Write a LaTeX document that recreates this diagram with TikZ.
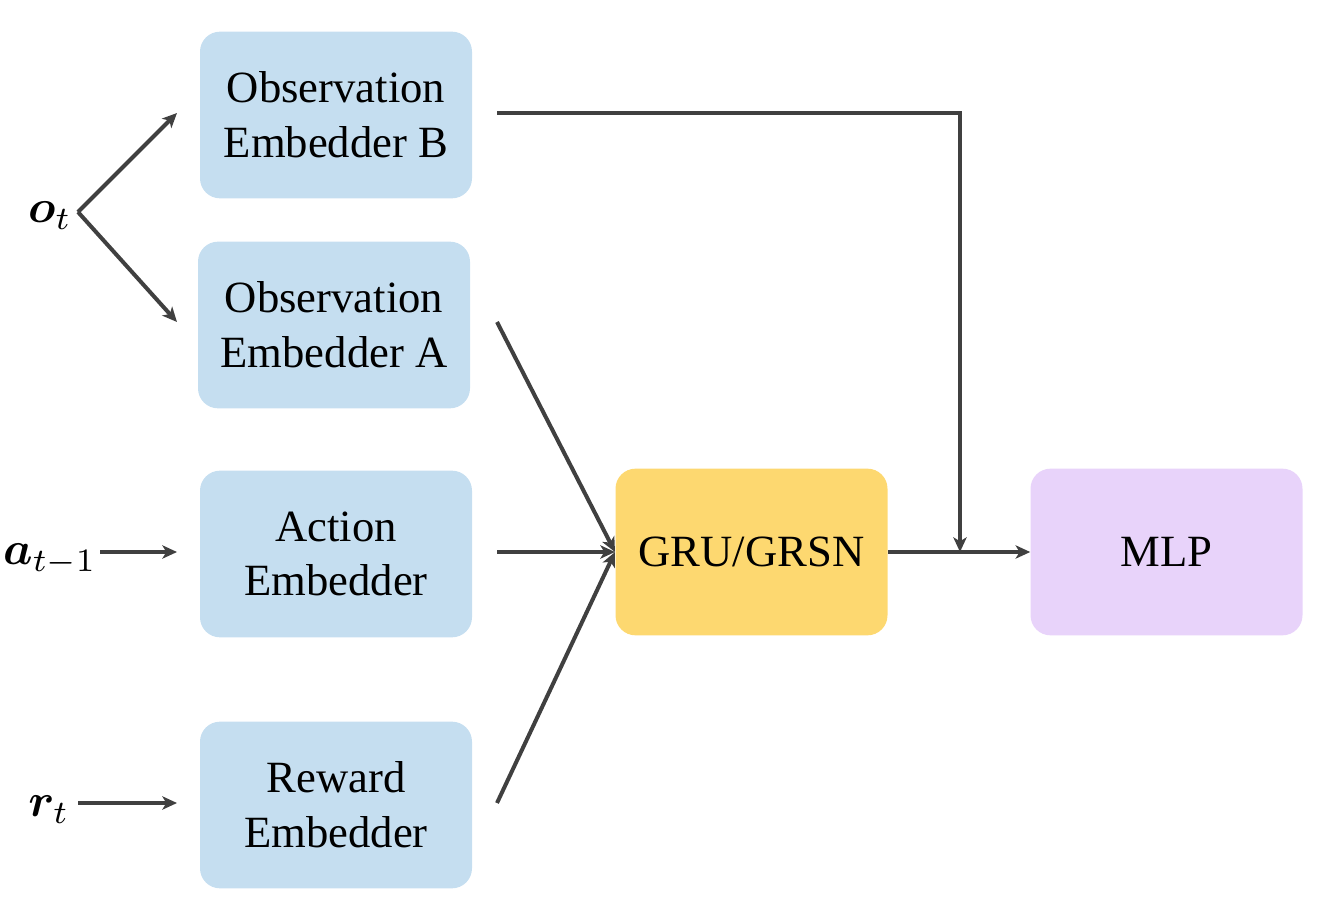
\documentclass[tikz,border=0pt]{standalone}
\usepackage{amsmath,bm,graphicx}
\usepackage{fontspec}
\setmainfont{Liberation Serif}
\usetikzlibrary{arrows.meta}
\definecolor{embblue}{HTML}{C5DEF0}
\definecolor{gruyellow}{HTML}{FDD870}
\definecolor{mlppurple}{HTML}{E8D3FA}
\definecolor{arrowgray}{HTML}{404040}
\newcommand{\biglab}[1]{\scalebox{3.5}{$#1$}}
\begin{document}
\begin{tikzpicture}[x=0.75pt,y=-0.75pt,
  box/.style={rounded corners=15pt, minimum width=204pt, minimum height=125pt,
    inner sep=0pt, align=center, font=\fontsize{33.5}{41}\selectfont},
  emb/.style={box, fill=embblue},
  conn/.style={draw=arrowgray, line width=3pt, -{Stealth[length=11pt,width=10pt,inset=3pt]}},
  lab/.style={inner sep=0pt}]
\useasboundingbox (0,0) rectangle (1328,917);
\node[emb] (obsB) at (336,115) {Observation\\Embedder B};
\node[emb] (obsA) at (334,325) {Observation\\Embedder A};
\node[emb] (act) at (336,554) {Action\\Embedder};
\node[emb] (rew) at (336,805) {Reward\\Embedder};
\node[box, fill=gruyellow] (gru) at (751.5,552) {GRU/GRSN};
\node[box, fill=mlppurple] (mlp) at (1166.5,552) {MLP};
\node[lab] (ot) at (50,216) {\biglab{\bm{o}_t}};
\node[lab] (at) at (50,560) {\biglab{\bm{a}_{t-1}}};
\node[lab] (rt) at (49,810) {\biglab{\bm{r}_t}};
\coordinate (apex) at (78,212);
\coordinate (obsBin) at (177,113);
\coordinate (obsAin) at (177,322);
\coordinate (actin) at (177,552);
\coordinate (rewin) at (177,803);
\coordinate (aout) at (100,552);
\coordinate (rout) at (78,803);
\coordinate (obsAout) at (497,322);
\coordinate (actout) at (497,552);
\coordinate (rewout) at (497,803);
\coordinate (obsBout) at (497,113);
\coordinate (corner) at (960,113);
\coordinate (join) at (960,552);
\coordinate (gruin) at (615,552);
\draw[conn] (apex) -- (obsBin);
\draw[conn] (apex) -- (obsAin);
\draw[conn] (aout) -- (actin);
\draw[conn] (rout) -- (rewin);
\draw[conn] (obsAout) -- (gruin);
\draw[conn] (actout) -- (gruin);
\draw[conn] (rewout) -- (gruin);
\draw[conn] (gru.east) -- (mlp.west);
\draw[conn] (obsBout) -- (corner) -- (join);
\end{tikzpicture}
\end{document}
